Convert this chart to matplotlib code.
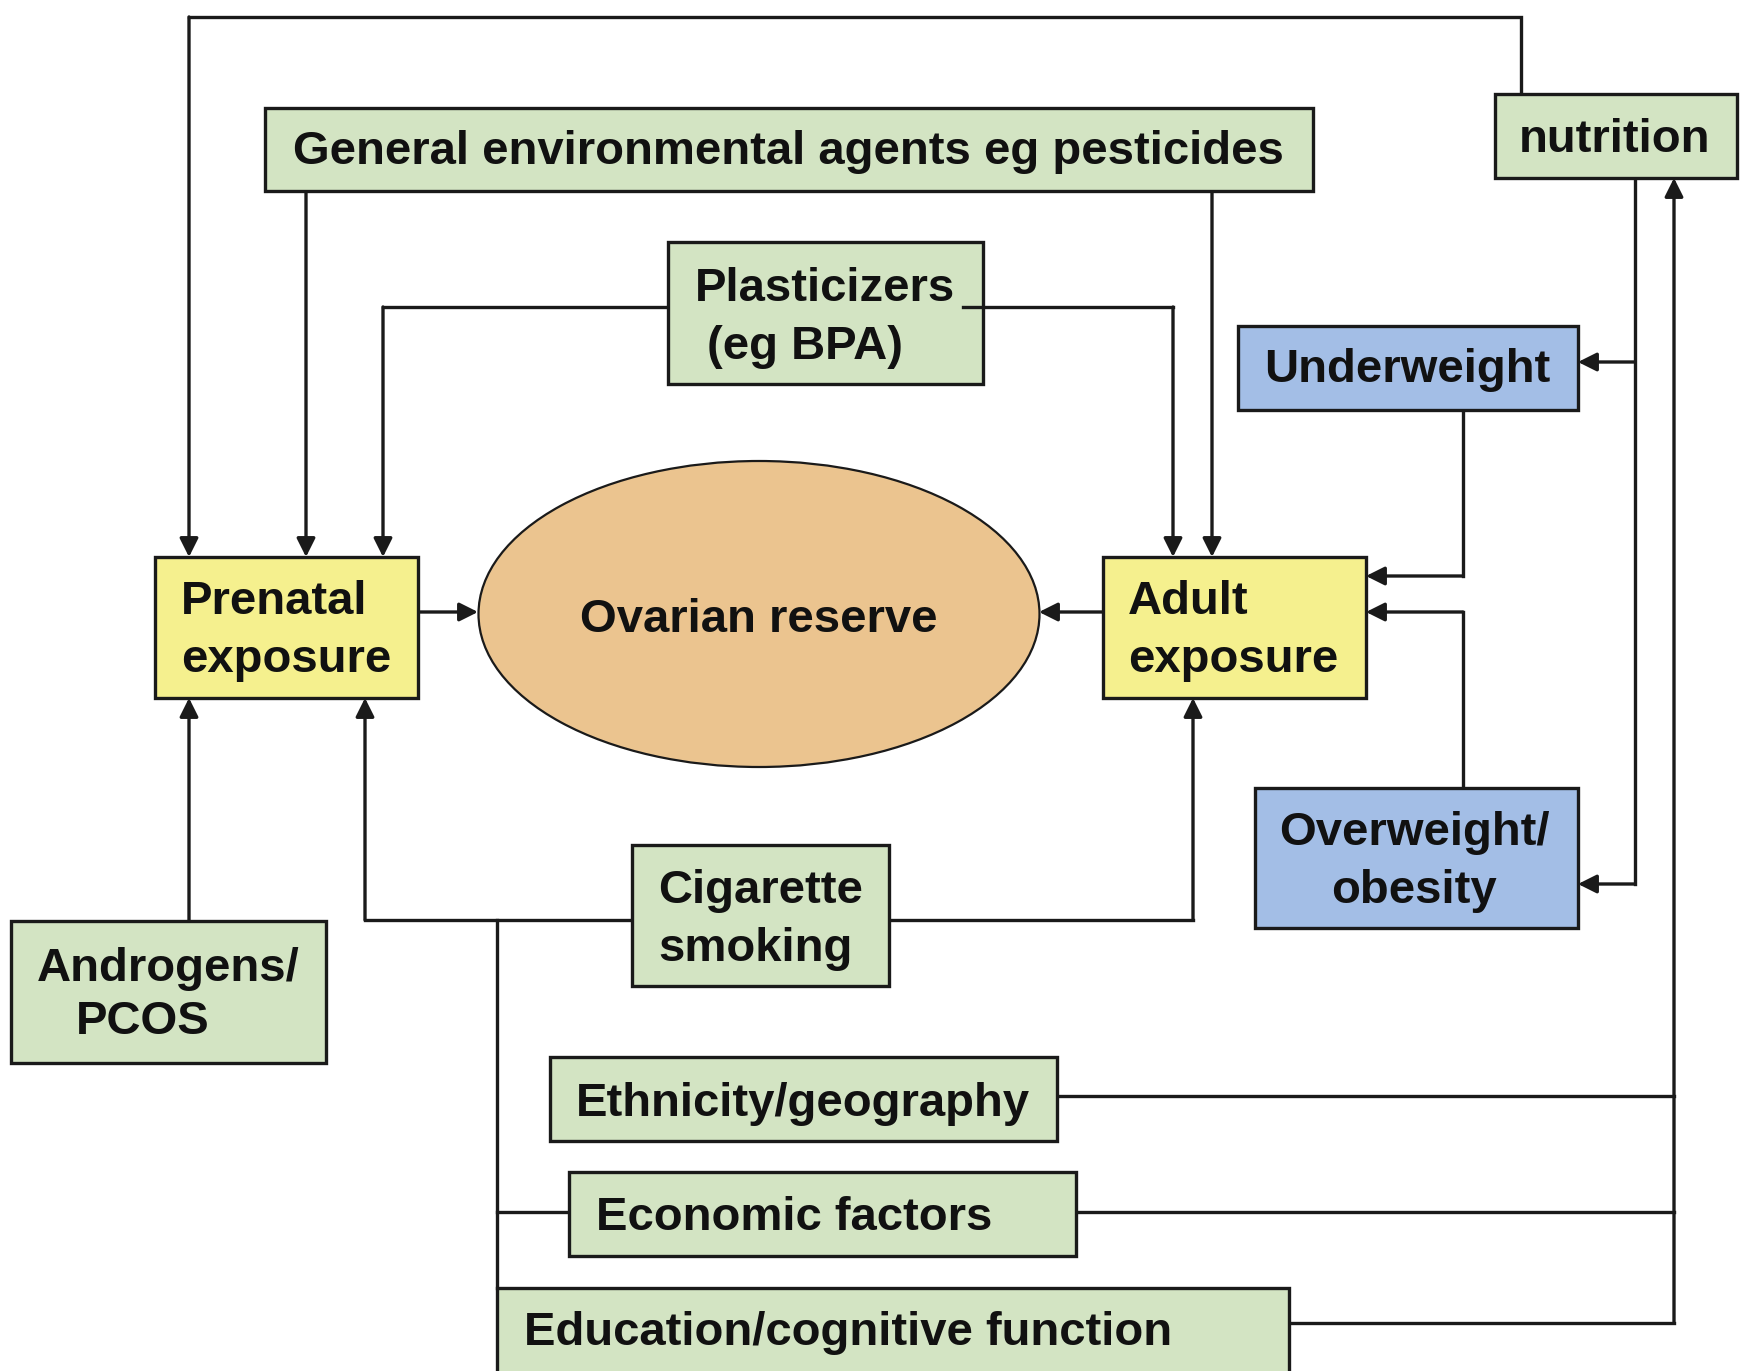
import matplotlib.pyplot as plt
from matplotlib.patches import Rectangle, Ellipse

# Node labels
general_label = 'General environmental agents eg pesticides'
nutrition_label = 'nutrition'
plastic_lines = ['Plasticizers', '(eg BPA)']
underweight_label = 'Underweight'
prenatal_lines = ['Prenatal', 'exposure']
ovarian_label = 'Ovarian reserve'
adult_lines = ['Adult', 'exposure']
overweight_lines = ['Overweight/', 'obesity']
cigarette_lines = ['Cigarette', 'smoking']
androgen_lines = ['Androgens/', 'PCOS']
ethnicity_label = 'Ethnicity/geography'
economic_label = 'Economic factors'
education_label = 'Education/cognitive function'

GREEN = '#d3e4c3'
YELLOW = '#f5f08e'
BLUE = '#a3bee6'
ORANGE = '#ebc48f'
EDGE = '#1a1a1a'
LW = 2.4
FS = 34

W, H = 1743, 1371
fig = plt.figure(figsize=(W / 100, H / 100), dpi=100)
ax = fig.add_axes([0, 0, 1, 1])
ax.set_xlim(0, W)
ax.set_ylim(H, 0)
ax.axis('off')


def box(x0, y0, x1, y1, color):
    ax.add_patch(Rectangle((x0, y0), x1 - x0, y1 - y0, facecolor=color,
                           edgecolor=EDGE, lw=LW, zorder=3))


def label(x, y, s, ha='center'):
    ax.text(x, y, s, ha=ha, va='center', fontsize=FS, fontweight='bold',
            family='Liberation Sans', color='#111111', zorder=4)


def route(pts, arrow=True, z=2):
    xs = [p[0] for p in pts]
    ys = [p[1] for p in pts]
    if arrow:
        ax.plot(xs[:-1], ys[:-1], color=EDGE, lw=LW, zorder=z,
                solid_joinstyle='miter')
        ax.annotate('', xy=pts[-1], xytext=pts[-2],
                    arrowprops=dict(arrowstyle='-|>', color=EDGE, lw=LW,
                                    mutation_scale=28, shrinkA=0, shrinkB=0),
                    zorder=z)
    else:
        ax.plot(xs, ys, color=EDGE, lw=LW, zorder=z, solid_joinstyle='miter')


# connectors
route([(1521, 94), (1521, 17), (189, 17), (189, 557)])          # nutrition -> prenatal
route([(306, 191), (306, 557)])                                  # general -> prenatal
route([(1212, 191), (1212, 557)])                                # general -> adult
route([(668, 307), (383, 307), (383, 557)])                      # plasticizers -> prenatal
route([(963, 307), (1173, 307), (1173, 557)], z=3.5)             # plasticizers -> adult
route([(418, 612), (478, 612)])                                  # prenatal -> ovary
route([(1103, 612), (1039, 612)])                                # adult -> ovary
route([(1463, 410), (1463, 576), (1366, 576)])                   # underweight -> adult
route([(1463, 788), (1463, 612), (1366, 612)])                   # overweight -> adult
route([(1635, 178), (1635, 884)], arrow=False)                   # nutrition down
route([(1635, 362), (1578, 362)])                                # -> underweight
route([(1635, 884), (1578, 884)])                                # -> overweight
route([(1289, 1323), (1674, 1323), (1674, 178)])                 # education -> nutrition
route([(1057, 1096), (1674, 1096)], arrow=False)                 # ethnicity
route([(1076, 1212), (1674, 1212)], arrow=False)                 # economic
route([(497, 1212), (569, 1212)], arrow=False)
route([(632, 920), (365, 920), (365, 698)])                      # smoking -> prenatal
route([(889, 920), (1193, 920), (1193, 698)])                    # smoking -> adult
route([(497, 920), (497, 1288)], arrow=False)
route([(189, 921), (189, 698)])                                  # androgens -> prenatal

# boxes
box(265, 108, 1313, 191, GREEN)
label(788, 152, general_label)
box(1495, 94, 1737, 178, GREEN)
label(1615, 140, nutrition_label)
box(668, 242, 983, 384, GREEN)
label(695, 289, plastic_lines[0], ha='left')
label(707, 347, plastic_lines[1], ha='left')
box(1238, 326, 1578, 410, BLUE)
label(1407, 370, underweight_label)
box(155, 557, 418, 698, YELLOW)
label(181, 602, prenatal_lines[0], ha='left')
label(181, 660, prenatal_lines[1], ha='left')
ax.add_patch(Ellipse((759, 614), 561, 306, facecolor=ORANGE, edgecolor=EDGE,
                     lw=1.6, zorder=3))
label(759, 620, ovarian_label)
box(1103, 557, 1366, 698, YELLOW)
label(1128, 602, adult_lines[0], ha='left')
label(1128, 660, adult_lines[1], ha='left')
box(1255, 788, 1578, 928, BLUE)
label(1414, 833, overweight_lines[0])
label(1414, 891, overweight_lines[1])
box(632, 845, 889, 986, GREEN)
label(658, 891, cigarette_lines[0], ha='left')
label(658, 949, cigarette_lines[1], ha='left')
box(11, 921, 326, 1063, GREEN)
label(37, 969, androgen_lines[0], ha='left')
label(76, 1022, androgen_lines[1], ha='left')
box(550, 1057, 1057, 1141, GREEN)
label(576, 1104, ethnicity_label, ha='left')
box(569, 1172, 1076, 1256, GREEN)
label(596, 1218, economic_label, ha='left')
box(497, 1288, 1289, 1380, GREEN)
label(524, 1333, education_label, ha='left')

fig.savefig('out.png', dpi=100, facecolor='white')
